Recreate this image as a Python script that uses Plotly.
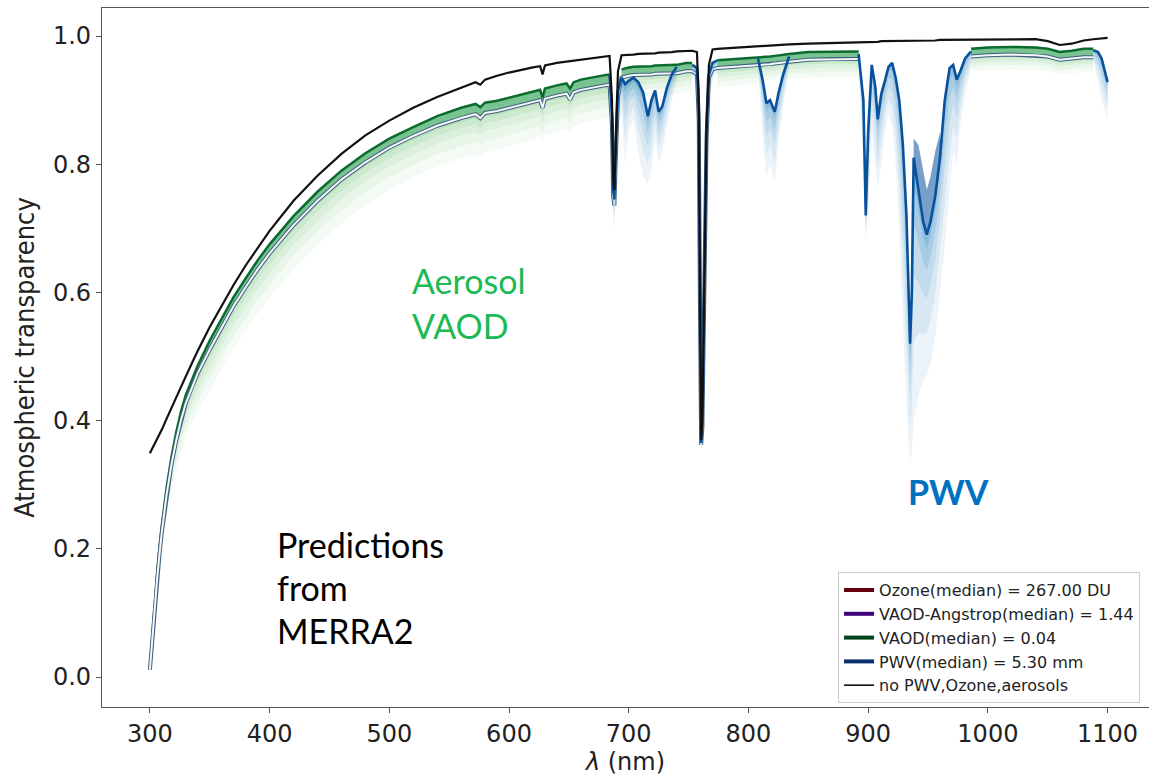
import plotly.graph_objects as go

N = None
# ---------------- data ----------------
wl = [300, 302, 304, 306, 308, 310, 314, 318, 322, 326, 330, 335, 340, 350, 360, 370, 380, 390, 400,
      420, 440, 460, 480, 500, 520, 540, 560, 572, 576, 580, 590, 600, 620, 626, 628, 630, 640, 648,
      651, 654, 660, 670, 680, 684, 686, 687, 688, 689, 691, 694, 697, 700, 704, 708, 712, 716, 719,
      722, 725, 728, 732, 736, 740, 748, 753, 757, 758.5, 759.5, 760.5, 761.5, 763, 765, 767, 770,
      774, 790, 808, 812, 815, 818, 822, 825, 829, 834, 850, 870, 892, 896, 898, 900, 903, 906, 908,
      911, 914, 917, 920, 923, 926, 929, 932, 935, 936.5, 938, 942, 946, 949, 952, 956, 960, 964,
      968, 971, 974, 977, 981, 986, 1000, 1020, 1040, 1050, 1060, 1070, 1080, 1088, 1092, 1095,
      1098, 1100]

# no PWV, ozone, aerosols (black)
t_clear = [0.349, 0.356, 0.363, 0.370, 0.377, 0.386, 0.403, 0.420, 0.437, 0.453, 0.469, 0.489, 0.509,
           0.546, 0.580, 0.612, 0.642, 0.670, 0.696, 0.743, 0.782, 0.816, 0.845, 0.868, 0.888, 0.905,
           0.920, 0.928, 0.924, 0.932, 0.938, 0.943, 0.951, 0.953, 0.940, 0.954, 0.958, 0.960, 0.961,
           0.962, 0.964, 0.966, 0.968, 0.969, 0.900, 0.780, 0.760, 0.830, 0.945, 0.970, 0.970, 0.971,
           0.971, 0.972, 0.972, 0.973, 0.973, 0.973, 0.974, 0.974, 0.975, 0.975, 0.976, 0.977, 0.977,
           0.975, 0.900, 0.600, 0.370, 0.400, 0.620, 0.860, 0.955, 0.979, 0.980, 0.982, 0.984, 0.984,
           0.985, 0.985, 0.985, 0.986, 0.986, 0.987, 0.988, 0.989, 0.990, 0.990, 0.991, 0.991, 0.991,
           0.991, 0.991, 0.992, 0.992, 0.992, 0.992, 0.992, 0.992, 0.992, 0.993, 0.993, 0.993, 0.993,
           0.993, 0.993, 0.993, 0.993, 0.993, 0.994, 0.994, 0.994, 0.994, 0.994, 0.994, 0.994, 0.995,
           0.995, 0.995, 0.995, 0.992, 0.986, 0.988, 0.993, 0.995, 0.996, 0.996, 0.997, 0.997]

# aerosol ensemble: upper (dark green) line, median (white) line, faint lower edge
t_aer_top = ([0.014, 0.066, 0.115, 0.160, 0.200, 0.237, 0.296, 0.343, 0.382, 0.414, 0.440, 0.464,
              0.486, 0.525, 0.560, 0.593, 0.622, 0.650, 0.675, 0.719, 0.757, 0.790, 0.817, 0.840,
              0.858, 0.875, 0.888, 0.894, 0.889, 0.896, 0.899, 0.904, 0.914, 0.916, 0.904, 0.918,
              0.923, 0.926, 0.918, 0.928, 0.932, 0.936, 0.939, 0.940]
             + [N] * 5
             + [0.948, 0.950, 0.951, 0.952, 0.952, 0.953, 0.953, 0.953, 0.954, 0.954, 0.954, 0.955,
                0.955, 0.955, 0.958, 0.958]
             + [N] * 9
             + [0.962, 0.964, 0.966, 0.967, 0.968, 0.968, 0.969, 0.970, 0.971, 0.972, 0.975, 0.976,
                0.976]
             + [N] * 29
             + [0.980, 0.982, 0.983, 0.982, 0.980, 0.975, 0.977, 0.980, 0.980]
             + [N] * 4)

t_median = ([0.011, 0.060, 0.108, 0.152, 0.191, 0.227, 0.285, 0.331, 0.369, 0.401, 0.427, 0.452,
             0.474, 0.511, 0.546, 0.579, 0.608, 0.636, 0.661, 0.705, 0.743, 0.776, 0.803, 0.826,
             0.844, 0.860, 0.872, 0.878, 0.872, 0.880, 0.883, 0.888, 0.898, 0.900, 0.888, 0.902,
             0.907, 0.910, 0.901, 0.912, 0.916, 0.920, 0.923, 0.924, 0.860, 0.750, 0.735, 0.800,
             0.905, 0.935, 0.937, 0.938, 0.939, 0.939, 0.940, 0.940, 0.940, 0.941, 0.941, 0.941,
             0.942, 0.942, 0.942, 0.945, 0.945, 0.940, 0.870, 0.580, 0.362, 0.390, 0.600, 0.840,
             0.935, 0.948, 0.950, 0.952, 0.954, 0.955, 0.956, 0.956, 0.957, 0.958, 0.959, 0.960,
             0.963, 0.964, 0.964]
            + [N] * 29
            + [0.968, 0.970, 0.971, 0.970, 0.968, 0.963, 0.965, 0.967, 0.967]
            + [N] * 4)

t_aer_low = ([0.006, 0.045, 0.088, 0.128, 0.163, 0.195, 0.247, 0.288, 0.321, 0.350, 0.374, 0.395,
              0.413, 0.448, 0.481, 0.512, 0.540, 0.567, 0.591, 0.636, 0.674, 0.708, 0.736, 0.760,
              0.780, 0.797, 0.810, 0.816, 0.810, 0.818, 0.822, 0.828, 0.840, 0.843, 0.832, 0.846,
              0.852, 0.856, 0.846, 0.859, 0.864, 0.869, 0.873, 0.874]
             + [N] * 5
             + [0.903, 0.905, 0.906, 0.907, 0.907, 0.908, 0.908, 0.908, 0.909, 0.909, 0.909, 0.910,
                0.910, 0.910, 0.913, 0.913]
             + [N] * 9
             + [0.920, 0.923, 0.926, 0.930, 0.931, 0.931, 0.932, 0.933, 0.934, 0.934, 0.935, 0.936,
                0.936]
             + [N] * 29
             + [0.945, 0.947, 0.948, 0.947, 0.945, 0.940, 0.942, 0.944, 0.944]
             + [N] * 4)

# PWV ensemble: median (dark blue) line and faint lower edge, inside absorption bands
t_pwv = ([N] * 43
         + [0.940, 0.875, 0.760, 0.745, 0.810, 0.915, 0.935, 0.925, 0.930, 0.935, 0.928, 0.912,
            0.875, 0.900, 0.915, 0.882, 0.890, 0.920, 0.940, 0.952]
         + [N]
         + [0.955, 0.950, 0.880, 0.590, 0.365, 0.395, 0.610, 0.850, 0.940, 0.958, 0.962]
         + [N]
         + [0.965, 0.930, 0.895, 0.900, 0.882, 0.910, 0.940, 0.968]
         + [N] * 2
         + [0.972, 0.900, 0.720, 0.850, 0.955, 0.920, 0.870, 0.910, 0.930, 0.952, 0.958, 0.935,
            0.900, 0.830, 0.720, 0.520, 0.600, 0.810, 0.760, 0.710, 0.690, 0.710, 0.750, 0.810,
            0.900, 0.950, 0.955, 0.932, 0.945, 0.965, 0.976]
         + [N] * 7
         + [0.978, 0.975, 0.965, 0.945, 0.928])

t_pwv_low = ([N] * 43
             + [0.930, 0.840, 0.720, 0.700, 0.760, 0.860, 0.880, 0.800, 0.850, 0.870, 0.820, 0.780,
                0.770, 0.790, 0.840, 0.800, 0.820, 0.860, 0.900, 0.930]
             + [N]
             + [0.940, 0.920, 0.850, 0.560, 0.350, 0.380, 0.580, 0.820, 0.910, 0.930, 0.945]
             + [N]
             + [0.950, 0.840, 0.780, 0.800, 0.770, 0.830, 0.890, 0.950]
             + [N] * 2
             + [0.950, 0.800, 0.680, 0.720, 0.850, 0.800, 0.760, 0.800, 0.850, 0.880, 0.860, 0.800,
                0.700, 0.550, 0.420, 0.330, 0.350, 0.400, 0.440, 0.460, 0.470, 0.490, 0.530, 0.600,
                0.670, 0.760, 0.820, 0.800, 0.860, 0.910, 0.950]
             + [N] * 7
             + [0.960, 0.930, 0.900, 0.880, 0.870])

# upper edge of the dense (dark) part of the PWV trough
t_pwv_dense = [N] * 103 + [0.840, 0.830, 0.790, 0.760, 0.780, 0.820, 0.850] + [N] * 19

for arr in (t_clear, t_aer_top, t_median, t_aer_low, t_pwv, t_pwv_low, t_pwv_dense):
    assert len(arr) == len(wl)

legend_labels = ["Ozone(median) = 267.00 DU", "VAOD-Angstrop(median) = 1.44",
                 "VAOD(median) = 0.04", "PWV(median) = 5.30 mm", "no PWV,Ozone,aerosols"]
x_ticks = [300, 400, 500, 600, 700, 800, 900, 1000, 1100]
y_ticks = [0.0, 0.2, 0.4, 0.6, 0.8, 1.0]

# ---------------- styling ----------------
GREEN_LINE = "#0b6b2e"
GREEN_BAND = "rgba(49,163,84,0.65)"
GREEN_FADE = "rgba(116,196,118,{a})"
BLUE_LINE = "#08519c"
BLUE_DENSE = "rgba(8,81,156,0.55)"
BLUE_FADE = "rgba(66,146,198,{a})"
green_layers = [(1.0, 0.08), (0.7, 0.09), (0.45, 0.11), (0.25, 0.15), (0.1, 0.2)]
blue_layers = [(1.0, 0.10), (0.7, 0.12), (0.45, 0.15), (0.25, 0.2), (0.1, 0.28)]


def runs(*cols):
    idx = [i for i in range(len(wl)) if all(c[i] is not None for c in cols)]
    segs, cur = [], []
    for i in idx:
        if cur and i != cur[-1] + 1:
            segs.append(cur)
            cur = []
        cur.append(i)
    if cur:
        segs.append(cur)
    return segs


fig = go.Figure()


def band(xs, lower, upper, color):
    fig.add_trace(go.Scatter(x=xs, y=lower, mode="lines", line=dict(width=0),
                             showlegend=False, hoverinfo="skip"))
    fig.add_trace(go.Scatter(x=xs, y=upper, mode="lines", line=dict(width=0),
                             fill="tonexty", fillcolor=color, showlegend=False, hoverinfo="skip"))


# aerosol (green) ensemble
for seg in runs(t_aer_top, t_median, t_aer_low):
    xs = [wl[i] for i in seg]
    top = [t_aer_top[i] for i in seg]
    med = [t_median[i] for i in seg]
    low = [t_aer_low[i] for i in seg]
    for f, a in green_layers:
        lo = [m - f * (m - l) for m, l in zip(med, low)]
        band(xs, lo, med, GREEN_FADE.format(a=a))
    band(xs, med, top, GREEN_BAND)
    fig.add_trace(go.Scatter(x=xs, y=top, mode="lines", line=dict(color=GREEN_LINE, width=2.5),
                             showlegend=False, hoverinfo="skip"))

# median (white line with dark edge)
fig.add_trace(go.Scatter(x=wl, y=t_median, mode="lines", line=dict(color="#3f5f7f", width=4),
                         connectgaps=False, showlegend=False, hoverinfo="skip"))
fig.add_trace(go.Scatter(x=wl, y=t_median, mode="lines", line=dict(color="#f4f8fb", width=2),
                         connectgaps=False, showlegend=False, hoverinfo="skip"))

# PWV (blue) ensemble
for seg in runs(t_pwv, t_pwv_low):
    xs = [wl[i] for i in seg]
    pm = [t_pwv[i] for i in seg]
    pl = [t_pwv_low[i] for i in seg]
    for f, a in blue_layers:
        lo = [m - f * (m - l) for m, l in zip(pm, pl)]
        band(xs, lo, pm, BLUE_FADE.format(a=a))
for seg in runs(t_pwv, t_pwv_dense):
    xs = [wl[i] for i in seg]
    band(xs, [t_pwv[i] for i in seg], [t_pwv_dense[i] for i in seg], BLUE_DENSE)
for seg in runs(t_pwv, t_pwv_low):
    xs = [wl[i] for i in seg]
    fig.add_trace(go.Scatter(x=xs, y=[t_pwv[i] for i in seg], mode="lines",
                             line=dict(color=BLUE_LINE, width=2.6),
                             showlegend=False, hoverinfo="skip"))

# clear-sky (black)
fig.add_trace(go.Scatter(x=wl, y=t_clear, mode="lines", line=dict(color="#111111", width=2.2),
                         showlegend=False, hoverinfo="skip"))

# legend entries
leg_colors = ["#67000d", "#3f007d", "#00441b", "#08306b", "#111111"]
leg_widths = [4, 4, 4, 4, 1.6]
for lab, col, w in zip(legend_labels, leg_colors, leg_widths):
    fig.add_trace(go.Scatter(x=[None], y=[None], mode="lines", name=lab,
                             line=dict(color=col, width=w)))

# text annotations
ann_font = "Lato, 'Open Sans', sans-serif"
notes = [
    ("Aerosol", 517.5, 0.619, "#1db954", False),
    ("VAOD", 517.5, 0.549, "#1db954", False),
    ("PWV", 932.0, 0.289, "#0070c0", True),
    ("Predictions", 404.5, 0.206, "#000000", False),
    ("from", 404.5, 0.140, "#000000", False),
    ("MERRA2", 404.5, 0.073, "#000000", False),
]
for txt, xv, yv, col, bold in notes:
    fig.add_annotation(x=xv, y=yv, xref="x", yref="y", text=f"<b>{txt}</b>" if bold else txt,
                       showarrow=False, xanchor="left", yanchor="middle",
                       font=dict(family=ann_font, size=34, color=col))

fig.update_layout(
    width=1149, height=778,
    margin=dict(l=102, r=0, t=8, b=71),
    plot_bgcolor="white", paper_bgcolor="white",
    font=dict(family="DejaVu Sans", color="#222222"),
    legend=dict(x=0.703, y=0.193, xanchor="left", yanchor="top", traceorder="normal",
                bgcolor="rgba(255,255,255,0.95)", bordercolor="#cccccc", borderwidth=1,
                font=dict(family="DejaVu Sans", size=16, color="#222222"),
                itemwidth=30),
)
fig.update_xaxes(range=[260, 1134.6], tickvals=x_ticks, ticktext=[str(v) for v in x_ticks],
                 ticks="outside", ticklen=5, tickcolor="#555555", showline=True, linecolor="#555555",
                 linewidth=1.3, mirror=True, showgrid=False, zeroline=False,
                 tickfont=dict(family="DejaVu Sans", size=24, color="#222222"),
                 title=dict(text="<i>λ</i> (nm)", font=dict(family="DejaVu Sans", size=24, color="#222222"),
                            standoff=6))
fig.update_yaxes(range=[-0.0468, 1.0437], tickvals=y_ticks, ticktext=[f"{v:.1f}" for v in y_ticks],
                 ticks="outside", ticklen=5, tickcolor="#555555", showline=True, linecolor="#555555",
                 linewidth=1.3, mirror=False, showgrid=False, zeroline=False,
                 tickfont=dict(family="DejaVu Sans", size=24, color="#222222"),
                 title=dict(text="Atmospheric transparency",
                            font=dict(family="Liberation Sans Narrow, DejaVu Sans Condensed, sans-serif",
                                      size=27, color="#222222"), standoff=10))

fig.write_html("out.html")
